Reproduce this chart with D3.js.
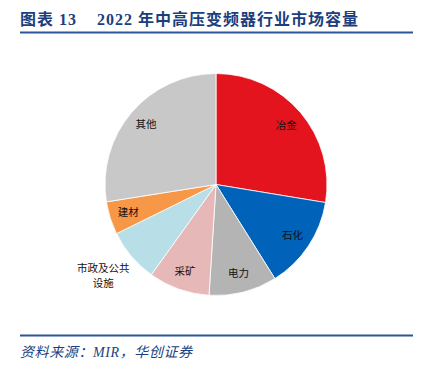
<!DOCTYPE html>
<html>
<head>
<meta charset="utf-8">
<script src="https://cdn.jsdelivr.net/npm/d3@7"></script>
<style>
  body { margin: 0; background: #fff; }
</style>
</head>
<body>
<script>
const width = 425;
const height = 370;

// 2022年中高压变频器行业市场容量 (share, %)
const categories = ["冶金", "石化", "电力", "采矿", "市政及公共设施", "建材", "其他"];
const shares = [27.6, 13.5, 9.9, 8.9, 7.8, 4.8, 27.5];
const colors = ["#E3141D", "#0062B8", "#B4B4B4", "#E6B8B8", "#B8DEE8", "#F79848", "#C8C8C8"];

const data = categories.map((c, i) => ({name: c, value: shares[i], color: colors[i]}));

const svg = d3.select("body")
	.append("svg")
	.attr("width", width)
	.attr("height", height);

// title
const title = svg.append("text")
	.attr("y", 25)
	.attr("fill", "#1B3F7E")
	.attr("font-family", "'Liberation Serif', 'Noto Sans CJK SC', serif")
	.attr("font-weight", "bold")
	.attr("font-size", 16)
	.attr("letter-spacing", 1);
title.append("tspan").attr("x", 20).text("图表 13");
title.append("tspan").attr("x", 97).text("2022 年中高压变频器行业市场容量");

svg.append("line")
	.attr("x1", 20).attr("x2", 413)
	.attr("y1", 32.5).attr("y2", 32.5)
	.attr("stroke", "#2A5598")
	.attr("stroke-width", 1.8);

// footer
svg.append("line")
	.attr("x1", 20).attr("x2", 413)
	.attr("y1", 335.5).attr("y2", 335.5)
	.attr("stroke", "#2A5598")
	.attr("stroke-width", 1.8);

svg.append("text")
	.attr("x", 20)
	.attr("y", 357)
	.attr("fill", "#1B3F7E")
	.attr("font-family", "'Liberation Serif', 'Noto Sans CJK SC', serif")
	.attr("font-style", "italic")
	.attr("font-size", 14)
	.attr("letter-spacing", 0.6)
	.text("资料来源：MIR，华创证券");

// pie
const cx = 216, cy = 184.5, r = 111;
const pie = d3.pie().sort(null).value((d) => d.value);
const arc = d3.arc().innerRadius(0).outerRadius(r);
const labelArc = d3.arc().innerRadius(92).outerRadius(92);
const outerLabelArc = d3.arc().innerRadius(148).outerRadius(148);

const g = svg.append("g").attr("transform", "translate(" + cx + "," + cy + ")");
const arcs = pie(data);

g.selectAll("path")
	.data(arcs)
	.enter()
	.append("path")
	.attr("d", arc)
	.attr("fill", (d) => d.data.color)
	.attr("stroke", "#fff")
	.attr("stroke-width", 0.8);

const labels = g.selectAll("text.lbl")
	.data(arcs)
	.enter()
	.append("text")
	.attr("class", "lbl")
	.attr("font-family", "'Noto Sans CJK SC', sans-serif")
	.attr("font-size", 10.5)
	.attr("fill", "#111")
	.attr("text-anchor", "middle")
	.attr("transform", (d) => {
		const p = d.data.name.length > 4 ? outerLabelArc.centroid(d) : labelArc.centroid(d);
		return "translate(" + p[0] + "," + p[1] + ")";
	});

labels.each(function(d) {
	const t = d3.select(this);
	if (d.data.name.length > 4) {
		t.append("tspan").attr("x", 0).attr("dy", "-0.75em").text(d.data.name.slice(0, 5));
		t.append("tspan").attr("x", 0).attr("dy", "1.35em").text(d.data.name.slice(5));
	} else {
		t.append("tspan").attr("x", 0).attr("dy", "0.35em").text(d.data.name);
	}
});
</script>
</body>
</html>
